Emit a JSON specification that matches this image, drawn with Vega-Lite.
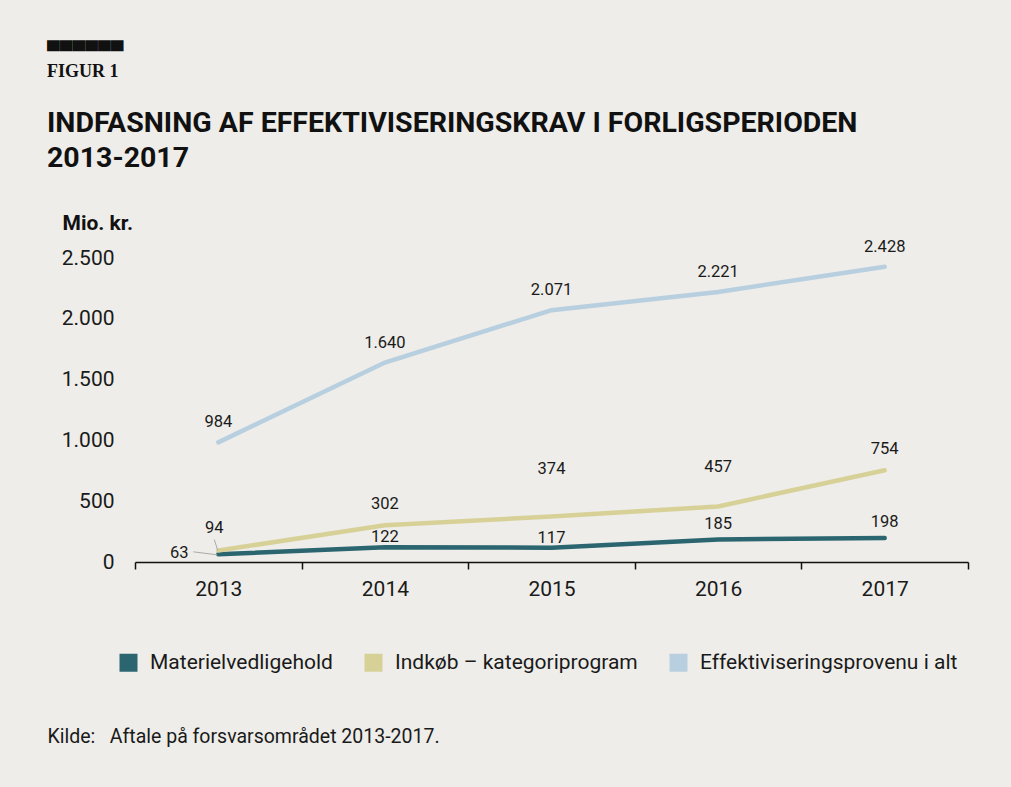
{
  "$schema": "https://vega.github.io/schema/vega-lite/v6.json",
  "autosize": {"type": "none"},
  "width": 833,
  "height": 304,
  "padding": {"left": 135, "top": 258, "right": 43, "bottom": 225},
  "background": "#eeede9",
  "config": {
    "view": {"stroke": null},
    "locale": {"number": {"decimal": ",", "thousands": ".", "grouping": [3], "currency": ["", " kr."]}},
    "text": {"font": "Roboto"}
  },
  "title": {
    "text": ["▄▄▄▄▄▄", "FIGUR 1"],
    "subtitle": ["INDFASNING AF EFFEKTIVISERINGSKRAV I FORLIGSPERIODEN", "2013-2017"],
    "anchor": "start",
    "frame": "group",
    "dx": -88,
    "font": "Liberation Serif",
    "fontWeight": "bold",
    "fontSize": 18,
    "lineHeight": 31,
    "color": "#111111",
    "subtitleFont": "Roboto",
    "subtitleFontWeight": "bold",
    "subtitleFontSize": 28.5,
    "subtitleLineHeight": 35,
    "subtitleColor": "#111111",
    "subtitlePadding": 28,
    "offset": 40
  },
  "data": {
    "values": [
      {"year": "2013", "series": "Materielvedligehold", "value": 63},
      {"year": "2014", "series": "Materielvedligehold", "value": 122},
      {"year": "2015", "series": "Materielvedligehold", "value": 117},
      {"year": "2016", "series": "Materielvedligehold", "value": 185},
      {"year": "2017", "series": "Materielvedligehold", "value": 198},
      {"year": "2013", "series": "Indkøb – kategoriprogram", "value": 94},
      {"year": "2014", "series": "Indkøb – kategoriprogram", "value": 302},
      {"year": "2015", "series": "Indkøb – kategoriprogram", "value": 374},
      {"year": "2016", "series": "Indkøb – kategoriprogram", "value": 457},
      {"year": "2017", "series": "Indkøb – kategoriprogram", "value": 754},
      {"year": "2013", "series": "Effektiviseringsprovenu i alt", "value": 984},
      {"year": "2014", "series": "Effektiviseringsprovenu i alt", "value": 1640},
      {"year": "2015", "series": "Effektiviseringsprovenu i alt", "value": 2071},
      {"year": "2016", "series": "Effektiviseringsprovenu i alt", "value": 2221},
      {"year": "2017", "series": "Effektiviseringsprovenu i alt", "value": 2428}
    ]
  },
  "encoding": {
    "x": {
      "field": "year",
      "type": "ordinal",
      "bandPosition": 0.5,
      "scale": {"type": "band", "paddingInner": 0, "paddingOuter": 0},
      "axis": {
        "tickBand": "extent",
        "labelAngle": 0,
        "labelFont": "Roboto",
        "labelFontSize": 21,
        "labelColor": "#1a1a1a",
        "labelPadding": 9,
        "domainColor": "#111111",
        "domainWidth": 1.5,
        "tickColor": "#111111",
        "tickWidth": 1.5,
        "tickSize": 7,
        "title": "Kilde:\u00a0\u00a0\u00a0Aftale på forsvarsområdet 2013-2017.",
        "titleFont": "Roboto",
        "titleFontWeight": "normal",
        "titleFontSize": 19.5,
        "titleColor": "#1a1a1a",
        "titleAnchor": "start",
        "titleAlign": "left",
        "titleBaseline": "middle",
        "titleX": -88,
        "titleY": 174
      }
    },
    "y": {
      "field": "value",
      "type": "quantitative",
      "scale": {"domain": [0, 2500], "nice": false},
      "axis": {
        "values": [0, 500, 1000, 1500, 2000, 2500],
        "format": ",d",
        "grid": false,
        "domain": false,
        "ticks": false,
        "labelFont": "Roboto",
        "labelFontSize": 21,
        "labelColor": "#1a1a1a",
        "labelPadding": 21,
        "labelBaseline": "middle",
        "title": "Mio. kr.",
        "titleFont": "Roboto",
        "titleFontWeight": "bold",
        "titleFontSize": 21,
        "titleColor": "#111111",
        "titleAngle": 0,
        "titleAlign": "left",
        "titleBaseline": "middle",
        "titleX": -73,
        "titleY": -35
      }
    }
  },
  "layer": [
    {
      "mark": {"type": "line", "strokeWidth": 4.5, "strokeCap": "round"},
      "encoding": {
        "color": {
          "field": "series",
          "type": "nominal",
          "sort": ["Materielvedligehold", "Indkøb – kategoriprogram", "Effektiviseringsprovenu i alt"],
          "scale": {
            "domain": ["Materielvedligehold", "Indkøb – kategoriprogram", "Effektiviseringsprovenu i alt"],
            "range": ["#2b6670", "#d7d198", "#b8cfe0"]
          },
          "legend": {
            "title": null,
            "orient": "none",
            "direction": "horizontal",
            "legendX": -17,
            "legendY": 394,
            "symbolType": "square",
            "symbolSize": 324,
            "symbolStrokeWidth": 0,
            "labelFont": "Roboto",
            "labelFontSize": 21,
            "labelColor": "#1a1a1a",
            "labelOffset": 11,
            "columnPadding": 30,
            "labelLimit": 400,
            "encode": {
              "symbols": {"update": {"fill": {"scale": "color", "field": "value"}, "fillOpacity": {"value": 1}}}
            }
          }
        }
      }
    },
    {
      "transform": [{"filter": "datum.year == '2013' && datum.series == 'Indkøb – kategoriprogram'"}],
      "mark": {"type": "rule", "color": "#aaaaaa", "strokeWidth": 1, "xOffset": -4, "x2Offset": -0.5, "yOffset": -11, "y2Offset": 0},
      "encoding": {
        "x2": {"field": "year", "bandPosition": 0.5},
        "y2": {"field": "value"}
      }
    },
    {
      "transform": [{"filter": "datum.year == '2013' && datum.series == 'Materielvedligehold'"}],
      "mark": {"type": "rule", "color": "#aaaaaa", "strokeWidth": 1, "xOffset": -25, "x2Offset": -1, "yOffset": -2.5, "y2Offset": 0.5},
      "encoding": {
        "x2": {"field": "year", "bandPosition": 0.5},
        "y2": {"field": "value"}
      }
    },
    {
      "transform": [{"filter": "datum.series == 'Effektiviseringsprovenu i alt'"}],
      "mark": {"type": "text", "dy": -20, "fontSize": 16.5, "color": "#1a1a1a"},
      "encoding": {"text": {"field": "value", "type": "quantitative", "format": ",d"}}
    },
    {
      "transform": [{"filter": "datum.series == 'Indkøb – kategoriprogram' && (datum.year == '2014' || datum.year == '2017')"}],
      "mark": {"type": "text", "dy": -21, "fontSize": 16.5, "color": "#1a1a1a"},
      "encoding": {"text": {"field": "value", "type": "quantitative", "format": ",d"}}
    },
    {
      "transform": [{"filter": "datum.series == 'Indkøb – kategoriprogram' && datum.year == '2015'"}],
      "mark": {"type": "text", "dy": -48, "fontSize": 16.5, "color": "#1a1a1a"},
      "encoding": {"text": {"field": "value", "type": "quantitative", "format": ",d"}}
    },
    {
      "transform": [{"filter": "datum.series == 'Indkøb – kategoriprogram' && datum.year == '2016'"}],
      "mark": {"type": "text", "dy": -39, "fontSize": 16.5, "color": "#1a1a1a"},
      "encoding": {"text": {"field": "value", "type": "quantitative", "format": ",d"}}
    },
    {
      "transform": [{"filter": "datum.series == 'Indkøb – kategoriprogram' && datum.year == '2013'"}],
      "mark": {"type": "text", "dx": -4, "dy": -23, "fontSize": 16.5, "color": "#1a1a1a"},
      "encoding": {"text": {"field": "value", "type": "quantitative", "format": ",d"}}
    },
    {
      "transform": [{"filter": "datum.series == 'Materielvedligehold' && (datum.year == '2014' || datum.year == '2015')"}],
      "mark": {"type": "text", "dy": -10, "fontSize": 16.5, "color": "#1a1a1a"},
      "encoding": {"text": {"field": "value", "type": "quantitative", "format": ",d"}}
    },
    {
      "transform": [{"filter": "datum.series == 'Materielvedligehold' && (datum.year == '2016' || datum.year == '2017')"}],
      "mark": {"type": "text", "dy": -16, "fontSize": 16.5, "color": "#1a1a1a"},
      "encoding": {"text": {"field": "value", "type": "quantitative", "format": ",d"}}
    },
    {
      "transform": [{"filter": "datum.series == 'Materielvedligehold' && datum.year == '2013'"}],
      "mark": {"type": "text", "dx": -39, "dy": -1, "fontSize": 16.5, "color": "#1a1a1a"},
      "encoding": {"text": {"field": "value", "type": "quantitative", "format": ",d"}}
    }
  ]
}
